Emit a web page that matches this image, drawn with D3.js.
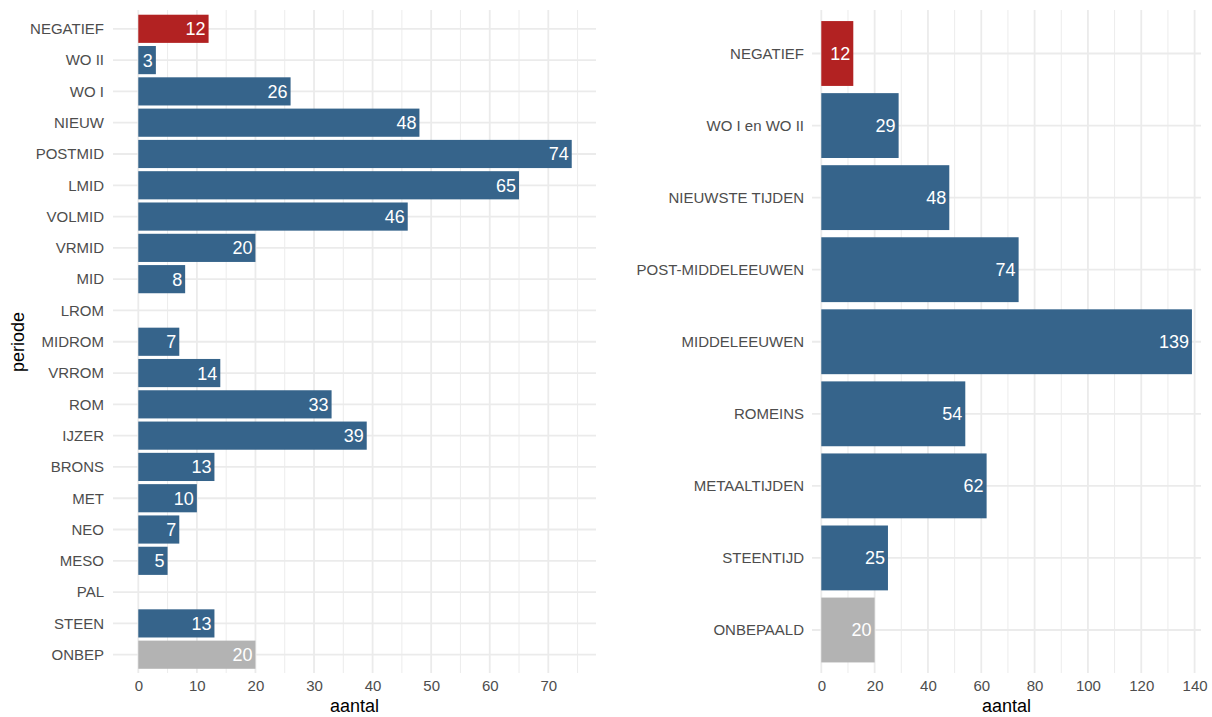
<!DOCTYPE html>
<html>
<head>
<meta charset="utf-8">
<script src="https://cdn.jsdelivr.net/npm/d3@7"></script>
<style>
  html, body { margin: 0; padding: 0; background: #fff; }
  svg { display: block; font-family: "Liberation Sans", Arial, sans-serif; }
</style>
</head>
<body>
<svg id="chart" width="1212" height="717"></svg>
<script>
// ---------- data ----------
const leftCategories = ["NEGATIEF","WO II","WO I","NIEUW","POSTMID","LMID","VOLMID","VRMID","MID","LROM","MIDROM","VRROM","ROM","IJZER","BRONS","MET","NEO","MESO","PAL","STEEN","ONBEP"];
const leftValues     = [12, 3, 26, 48, 74, 65, 46, 20, 8, 0, 7, 14, 33, 39, 13, 10, 7, 5, 0, 13, 20];
const leftTicks      = [0, 10, 20, 30, 40, 50, 60, 70];

const rightCategories = ["NEGATIEF","WO I en WO II","NIEUWSTE TIJDEN","POST-MIDDELEEUWEN","MIDDELEEUWEN","ROMEINS","METAALTIJDEN","STEENTIJD","ONBEPAALD"];
const rightValues     = [12, 29, 48, 74, 139, 54, 62, 25, 20];
const rightTicks      = [0, 20, 40, 60, 80, 100, 120, 140];

const colorOf = c => c === "NEGATIEF" ? "#B22222" : (c.startsWith("ONBEP") ? "#B3B3B3" : "#36648B");

const svg = d3.select("#chart");

function panel(cfg) {
  const g = svg.append("g");
  const x = d3.scaleLinear().domain(cfg.xDomain).range(cfg.xRange);
  const y = d3.scalePoint().domain(cfg.cats).range(cfg.yRange);
  const step = y.step();
  const [px0, px1] = cfg.panelX, [py0, py1] = cfg.panelY;

  // minor vertical grid
  const minorStep = cfg.ticks[1] - cfg.ticks[0];
  const minors = [];
  for (let v = cfg.ticks[0] - minorStep / 2; v <= x.invert(px1); v += minorStep) {
    if (x(v) >= px0) minors.push(v);
  }
  g.selectAll(".minor").data(minors).enter().append("line")
    .attr("x1", d => x(d)).attr("x2", d => x(d)).attr("y1", py0).attr("y2", py1)
    .attr("stroke", "#ececec").attr("stroke-width", 1);
  // major vertical grid
  g.selectAll(".major").data(cfg.ticks).enter().append("line")
    .attr("x1", d => x(d)).attr("x2", d => x(d)).attr("y1", py0).attr("y2", py1)
    .attr("stroke", "#ebebeb").attr("stroke-width", 1.8);
  // horizontal grid
  g.selectAll(".hgrid").data(cfg.cats).enter().append("line")
    .attr("x1", px0).attr("x2", px1).attr("y1", d => y(d)).attr("y2", d => y(d))
    .attr("stroke", "#ebebeb").attr("stroke-width", 1.8);

  // bars
  const data = cfg.cats.map((c, i) => ({ c, v: cfg.vals[i] }));
  g.selectAll(".bar").data(data.filter(d => d.v > 0)).enter().append("rect")
    .attr("x", x(0)).attr("width", d => x(d.v) - x(0))
    .attr("y", d => y(d.c) - step * 0.45).attr("height", step * 0.9)
    .attr("fill", d => colorOf(d.c));
  // labels
  g.selectAll(".lbl").data(data.filter(d => d.v > 0)).enter().append("text")
    .attr("x", d => x(d.v) - 3).attr("y", d => y(d.c))
    .attr("dy", "0.36em").attr("text-anchor", "end")
    .attr("fill", "#ffffff").attr("font-size", 18)
    .text(d => d.v);

  // y axis labels
  const yAxis = d3.axisLeft(y).tickSize(0).tickPadding(0);
  const ya = g.append("g").attr("transform", `translate(${cfg.yLabelX},0)`).call(yAxis);
  ya.select(".domain").remove();
  ya.selectAll("text").attr("font-size", 15).attr("fill", "#4d4d4d")
    .attr("font-family", "Liberation Sans, Arial, sans-serif");

  // x axis labels
  const xAxis = d3.axisBottom(x).tickValues(cfg.ticks).tickSize(0).tickPadding(0);
  const xa = g.append("g").attr("transform", `translate(0,${cfg.xLabelY})`).call(xAxis);
  xa.select(".domain").remove();
  xa.selectAll("text").attr("font-size", 15).attr("fill", "#4d4d4d")
    .attr("font-family", "Liberation Sans, Arial, sans-serif");

  // x title
  g.append("text").attr("x", (px0 + px1) / 2).attr("y", 712)
    .attr("text-anchor", "middle").attr("font-size", 18).attr("fill", "#000")
    .text("aantal");
}

panel({
  cats: leftCategories, vals: leftValues, ticks: leftTicks,
  xDomain: [0, 70], xRange: [138.3, 548.3],
  yRange: [28.8, 654.7],
  panelX: [113, 596], panelY: [10, 673],
  yLabelX: 104, xLabelY: 680
});

panel({
  cats: rightCategories, vals: rightValues, ticks: rightTicks,
  xDomain: [0, 140], xRange: [821.3, 1194.6],
  yRange: [53.5, 630],
  panelX: [812, 1201], panelY: [10, 673],
  yLabelX: 804, xLabelY: 680
});

// y title
svg.append("text").attr("transform", "translate(24,342) rotate(-90)")
  .attr("text-anchor", "middle").attr("font-size", 18).attr("fill", "#000")
  .text("periode");
</script>
</body>
</html>
